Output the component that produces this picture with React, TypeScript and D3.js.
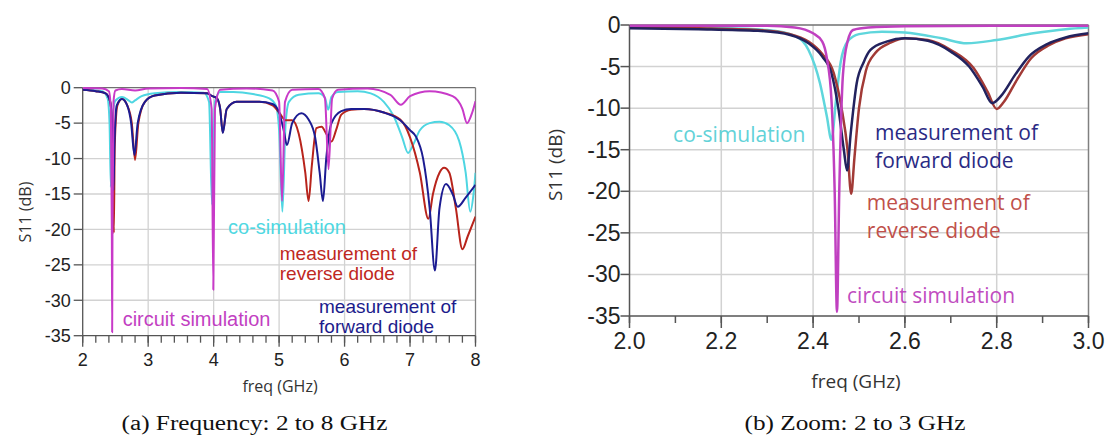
import React from "react";
import * as d3 from "d3";

type Pt = [number, number];

// ---------- (a) 2 to 8 GHz : [freq GHz, S11 dB] ----------
const leftCircuit: Pt[] = [
  [2.0, -0.05], [2.3, -0.1], [2.4, -0.5], [2.43, -3], [2.445, -20], [2.45, -34.5], [2.455, -20],
  [2.47, -2], [2.5, -0.4], [2.6, -0.2], [2.8, -0.4], [3.0, -0.1], [3.5, -0.05], [3.9, -0.2],
  [3.97, -3], [3.995, -28.5], [4.02, -3], [4.1, -0.3], [4.5, -0.1], [4.9, -0.4], [5.0, -2],
  [5.045, -16], [5.09, -2], [5.2, -0.3], [5.6, -0.2], [5.7, -1.5], [5.755, -11.5], [5.81, -1.5],
  [5.9, -0.3], [6.35, -0.1], [6.7, -1], [6.86, -2.4], [7.0, -1.2], [7.3, -0.5], [7.65, -1.2],
  [7.8, -3], [7.87, -5], [7.95, -3.5], [8.0, -1.9],
];
const leftCoSim: Pt[] = [
  [2.0, -0.3], [2.3, -0.5], [2.38, -1.5], [2.41, -5], [2.43, -14], [2.45, -5], [2.5, -1.8],
  [2.6, -1.3], [2.7, -1.8], [2.75, -2.1], [2.8, -1.8], [2.9, -1.2], [3.1, -0.8], [3.5, -0.6],
  [3.85, -0.7], [3.93, -2], [3.975, -16.5], [4.02, -2], [4.1, -0.6], [4.3, -0.6], [4.6, -0.9],
  [4.85, -1.5], [4.95, -2.5], [5.0, -6], [5.05, -17.5], [5.1, -5], [5.15, -2], [5.3, -1],
  [5.6, -0.8], [5.7, -1.4], [5.75, -3.1], [5.8, -1.3], [5.9, -0.6], [6.2, -0.5], [6.4, -0.8],
  [6.6, -2], [6.75, -4], [6.88, -7], [6.97, -9.2], [7.05, -8], [7.15, -6], [7.3, -5],
  [7.45, -4.8], [7.6, -5.3], [7.75, -7.5], [7.85, -12], [7.92, -17.5], [7.97, -15], [8.0, -12],
];
const leftReverse: Pt[] = [
  [2.0, -0.3], [2.2, -0.5], [2.35, -0.8], [2.42, -2], [2.46, -8], [2.475, -20.5], [2.49, -8],
  [2.53, -2.5], [2.6, -1.6], [2.68, -2.5], [2.75, -5], [2.8, -10.2], [2.85, -5], [2.95, -2],
  [3.1, -1.1], [3.5, -0.7], [3.9, -0.8], [3.98, -1.2], [4.05, -1.5], [4.1, -3], [4.14, -6.3],
  [4.2, -3], [4.35, -2], [4.7, -2], [4.9, -2.5], [5.0, -3.5], [5.1, -4.6], [5.2, -4.6],
  [5.3, -6.5], [5.4, -12], [5.45, -16], [5.5, -11], [5.57, -5.7], [5.65, -5.5], [5.72, -6.5],
  [5.8, -7.6], [5.87, -6], [5.95, -3.8], [6.1, -3.1], [6.3, -3], [6.6, -3.5], [6.85, -4.5],
  [7.0, -7], [7.15, -12], [7.28, -18.5], [7.35, -15], [7.45, -12], [7.52, -11.3], [7.6, -12],
  [7.7, -17], [7.8, -22.8], [7.88, -21], [8.0, -18.2],
];
const leftForward: Pt[] = [
  [2.0, -0.3], [2.2, -0.5], [2.35, -0.8], [2.42, -2], [2.46, -8], [2.47, -14.5], [2.485, -8],
  [2.52, -2.5], [2.6, -1.6], [2.68, -2.5], [2.74, -5], [2.79, -9.5], [2.84, -5], [2.95, -2],
  [3.1, -1.1], [3.5, -0.7], [3.9, -0.8], [3.98, -1.2], [4.05, -1.5], [4.1, -3], [4.14, -6.4],
  [4.2, -3], [4.35, -2], [4.7, -2], [4.9, -2.3], [5.0, -3.5], [5.07, -6], [5.12, -8.1],
  [5.2, -5], [5.34, -3.6], [5.45, -4.5], [5.55, -7], [5.62, -12], [5.67, -16], [5.72, -10],
  [5.8, -5], [5.95, -3.3], [6.1, -3], [6.3, -3], [6.6, -3.5], [6.85, -4.6], [7.0, -6],
  [7.09, -6.9], [7.2, -10], [7.3, -17], [7.38, -25.8], [7.45, -17], [7.55, -13.6], [7.65, -15],
  [7.73, -16.8], [7.85, -15.5], [8.0, -13.7],
];

// ---------- (b) 2 to 3 GHz ----------
const rightCircuit: Pt[] = [
  [2.0, -0.1], [2.3, -0.1], [2.36, -0.3], [2.4, -1], [2.42, -2], [2.43, -4], [2.44, -9],
  [2.447, -20], [2.452, -34.5], [2.457, -20], [2.465, -6], [2.475, -2], [2.487, -0.6],
  [2.52, -0.3], [2.6, -0.15], [2.8, -0.1], [3.0, -0.1],
];
const rightCoSim: Pt[] = [
  [2.0, -0.3], [2.2, -0.4], [2.3, -0.6], [2.364, -1.4], [2.39, -3], [2.415, -7], [2.43, -11],
  [2.44, -13.8], [2.45, -9], [2.46, -4.5], [2.475, -2], [2.5, -1.1], [2.55, -0.8], [2.6, -0.9],
  [2.68, -1.6], [2.735, -2.2], [2.8, -1.8], [2.88, -1], [2.95, -0.5], [3.0, -0.3],
];
const rightReverse: Pt[] = [
  [2.0, -0.3], [2.15, -0.4], [2.28, -0.6], [2.35, -1.1], [2.39, -2], [2.42, -3.5], [2.445, -5.8],
  [2.462, -10], [2.475, -15], [2.483, -20.3], [2.49, -16], [2.5, -10], [2.515, -5.5],
  [2.535, -3.4], [2.57, -2.1], [2.6, -1.6], [2.65, -1.8], [2.7, -3.0], [2.75, -5.2], [2.78, -8],
  [2.8, -10.1], [2.815, -9.3], [2.845, -6.5], [2.875, -4], [2.915, -2.4], [2.95, -1.6], [3.0, -1.1],
];
const rightForward: Pt[] = [
  [2.0, -0.4], [2.15, -0.5], [2.28, -0.7], [2.35, -1.2], [2.39, -2.2], [2.42, -3.8], [2.44, -5.8],
  [2.455, -10], [2.467, -15], [2.474, -17.5], [2.482, -13], [2.495, -7], [2.51, -4.5],
  [2.525, -3], [2.56, -2], [2.6, -1.6], [2.65, -1.9], [2.7, -3.2], [2.74, -5], [2.77, -7.5],
  [2.79, -9.4], [2.81, -8.5], [2.84, -6], [2.87, -3.8], [2.91, -2.3], [2.95, -1.5], [3.0, -1.0],
];

const leftXTicks = [2, 3, 4, 5, 6, 7, 8];
const leftXMinor = d3.range(2, 8.001, 0.2);
const rightXTicks = [2.0, 2.2, 2.4, 2.6, 2.8, 3.0];
const rightXMinor = d3.range(2, 3.001, 0.1);
const yTicks = [0, -5, -10, -15, -20, -25, -30, -35];

const seriesNames = ["co-simulation", "measurement of reverse diode", "measurement of forward diode", "circuit simulation"];

// ---------- styles / layout ----------
const SANS = "'Liberation Sans', Arial, sans-serif";
const UI = "'Open Sans', 'Noto Sans', sans-serif";
const SERIF = "'Liberation Serif', 'Times New Roman', serif";

type Label = { lines: string[]; f: number; db: number; color: string; size: number; gap: number; font: string };
type Series = { data: Pt[]; color: string; width: number };

type PanelProps = {
  id: string;
  xDomain: [number, number];
  box: { left: number; right: number; top: number; bottom: number };
  xTicks: number[];
  xMinor: number[];
  xFmt: (v: number) => string;
  tickFont: number;
  yTickGap: number;
  xTickDy: number;
  series: Series[];
  labels: Label[];
  xTitle: { text: string; x: number; y: number; size: number };
  yTitle: { text: string; x: number; y: number; size: number };
  caption: { text: string; x: number; y: number; size: number; width: number };
  majorLen: number;
  minorLen: number;
  lineW: number;
};

function Panel(p: PanelProps) {
  const { box } = p;
  const x = d3.scaleLinear().domain(p.xDomain).range([box.left, box.right]);
  const y = d3.scaleLinear().domain([0, -35]).range([box.top, box.bottom]);
  const line = d3
    .line<Pt>()
    .x((d) => x(d[0]))
    .y((d) => y(d[1]))
    .curve(d3.curveMonotoneX);
  return (
    <g>
      <defs>
        <clipPath id={`clip-${p.id}`}>
          <rect x={box.left} y={box.top - 2} width={box.right - box.left} height={box.bottom - box.top + 4} />
        </clipPath>
      </defs>
      {/* grid */}
      {yTicks.slice(1, -1).map((t) => (
        <line key={`gy${t}`} x1={box.left} x2={box.right} y1={y(t)} y2={y(t)} stroke="#d2d2d2" strokeWidth={p.lineW} />
      ))}
      {p.xTicks.slice(1, -1).map((t) => (
        <line key={`gx${t}`} x1={x(t)} x2={x(t)} y1={box.top} y2={box.bottom} stroke="#d2d2d2" strokeWidth={p.lineW} />
      ))}
      {/* frame */}
      <line x1={box.left} x2={box.right} y1={y(0)} y2={y(0)} stroke="#707070" strokeWidth={p.lineW} />
      <line x1={box.right} x2={box.right} y1={box.top} y2={box.bottom} stroke="#808080" strokeWidth={p.lineW} />
      <line x1={box.left} x2={box.left} y1={box.top} y2={box.bottom} stroke="#555" strokeWidth={p.lineW} />
      <line x1={box.left} x2={box.right} y1={box.bottom} y2={box.bottom} stroke="#555" strokeWidth={p.lineW} />
      {/* y ticks */}
      {yTicks.map((t) => (
        <g key={`yt${t}`}>
          <line x1={box.left - 9} x2={box.left} y1={y(t)} y2={y(t)} stroke="#555" strokeWidth={p.lineW} />
          <text x={box.left - p.yTickGap} y={y(t)} dy="0.35em" textAnchor="end" fontFamily={SANS} fontSize={p.tickFont} fill="#222">
            {String(t)}
          </text>
        </g>
      ))}
      {/* x ticks */}
      {p.xMinor.map((t, i) => (
        <line key={`xm${i}`} x1={x(t)} x2={x(t)} y1={box.bottom} y2={box.bottom + p.minorLen} stroke="#555" strokeWidth={p.lineW} />
      ))}
      {p.xTicks.map((t) => (
        <g key={`xt${t}`}>
          <line x1={x(t)} x2={x(t)} y1={box.bottom} y2={box.bottom + p.majorLen} stroke="#555" strokeWidth={p.lineW} />
          <text x={x(t)} y={box.bottom + p.xTickDy} dy="0.35em" textAnchor="middle" fontFamily={SANS} fontSize={p.tickFont} fill="#222">
            {p.xFmt(t)}
          </text>
        </g>
      ))}
      {/* series */}
      <g clipPath={`url(#clip-${p.id})`}>
        {p.series.map((s, i) => (
          <path key={i} d={line(s.data) || ""} fill="none" stroke={s.color} strokeWidth={s.width} strokeLinejoin="round" />
        ))}
      </g>
      {/* labels */}
      {p.labels.map((l, i) => (
        <text key={`lb${i}`} x={x(l.f)} y={y(l.db)} fontFamily={l.font} fontSize={l.size} fill={l.color}>
          {l.lines.map((s, j) => (
            <tspan key={j} x={x(l.f)} dy={j === 0 ? "0.35em" : l.gap}>
              {s}
            </tspan>
          ))}
        </text>
      ))}
      {/* titles */}
      <text x={p.xTitle.x} y={p.xTitle.y} dy="0.35em" textAnchor="middle" fontFamily={UI} fontSize={p.xTitle.size} fill="#333">
        {p.xTitle.text}
      </text>
      <text
        transform={`translate(${p.yTitle.x},${p.yTitle.y}) rotate(-90)`}
        dy="0.35em"
        textAnchor="middle"
        fontFamily={UI}
        fontSize={p.yTitle.size}
        fill="#333"
      >
        {p.yTitle.text}
      </text>
      <text
        x={p.caption.x}
        y={p.caption.y}
        dy="0.35em"
        textAnchor="middle"
        fontFamily={SERIF}
        fontSize={p.caption.size}
        fill="#111"
        textLength={p.caption.width}
        lengthAdjust="spacingAndGlyphs"
      >
        {p.caption.text}
      </text>
    </g>
  );
}

export default function App() {
  const left: PanelProps = {
    id: "a",
    xDomain: [2, 8],
    box: { left: 82.7, right: 475.5, top: 87.7, bottom: 335.7 },
    xTicks: leftXTicks,
    xMinor: leftXMinor,
    xFmt: (v) => d3.format("d")(v),
    tickFont: 18,
    yTickGap: 12,
    xTickDy: 24,
    lineW: 1.3,
    majorLen: 11,
    minorLen: 7,
    series: [
      { data: leftCoSim, color: "#4ed6e2", width: 2 },
      { data: leftReverse, color: "#b8241c", width: 2 },
      { data: leftForward, color: "#1c1c92", width: 2 },
      { data: leftCircuit, color: "#c83ac8", width: 2 },
    ],
    labels: [
      { lines: [seriesNames[0]], f: 4.22, db: -19.7, color: "#4fd8e2", size: 20, gap: 19, font: SANS },
      { lines: ["measurement of", "reverse diode"], f: 5.01, db: -23.4, color: "#c0281e", size: 19, gap: 20, font: SANS },
      { lines: [seriesNames[3]], f: 2.61, db: -32.7, color: "#c23fc2", size: 20, gap: 19, font: SANS },
      { lines: ["measurement of", "forward diode"], f: 5.61, db: -30.8, color: "#1c1c8c", size: 19, gap: 20, font: SANS },
    ],
    xTitle: { text: "freq (GHz)", x: 280, y: 386.7, size: 16 },
    yTitle: { text: "S11 (dB)", x: 25, y: 212, size: 16 },
    caption: { text: "(a)  Frequency: 2 to 8 GHz", x: 254.5, y: 423, size: 20, width: 266 },
  };
  const right: PanelProps = {
    id: "b",
    xDomain: [2, 3],
    box: { left: 629.5, right: 1088.5, top: 25, bottom: 316 },
    xTicks: rightXTicks,
    xMinor: rightXMinor,
    xFmt: (v) => d3.format(".1f")(v),
    tickFont: 23,
    yTickGap: 9,
    xTickDy: 25,
    lineW: 1.5,
    majorLen: 12,
    minorLen: 7,
    series: [
      { data: rightCoSim, color: "#5fd6dc", width: 2.5 },
      { data: rightReverse, color: "#a23a36", width: 2.5 },
      { data: rightForward, color: "#22225e", width: 2.5 },
      { data: rightCircuit, color: "#c040c0", width: 2.5 },
    ],
    labels: [
      { lines: [seriesNames[0]], f: 2.095, db: -13.2, color: "#62d2d8", size: 21, gap: 28, font: UI },
      { lines: ["measurement of", "forward diode"], f: 2.535, db: -13.0, color: "#2a2a84", size: 21, gap: 28, font: UI },
      { lines: ["measurement of", "reverse diode"], f: 2.517, db: -21.4, color: "#c0504a", size: 21, gap: 28, font: UI },
      { lines: [seriesNames[3]], f: 2.474, db: -32.6, color: "#c04cc0", size: 21, gap: 28, font: UI },
    ],
    xTitle: { text: "freq (GHz)", x: 856, y: 381, size: 19 },
    yTitle: { text: "S11 (dB)", x: 555, y: 165, size: 19 },
    caption: { text: "(b)  Zoom: 2 to 3 GHz", x: 855, y: 423, size: 20, width: 221 },
  };
  return (
    <svg
      width={1107}
      height={442}
      viewBox="0 0 1107 442"
      style={{ position: "absolute", left: 0, top: 0, background: "#fff" }}
    >
      <rect width={1107} height={442} fill="#fff" />
      <Panel {...left} />
      <Panel {...right} />
    </svg>
  );
}
